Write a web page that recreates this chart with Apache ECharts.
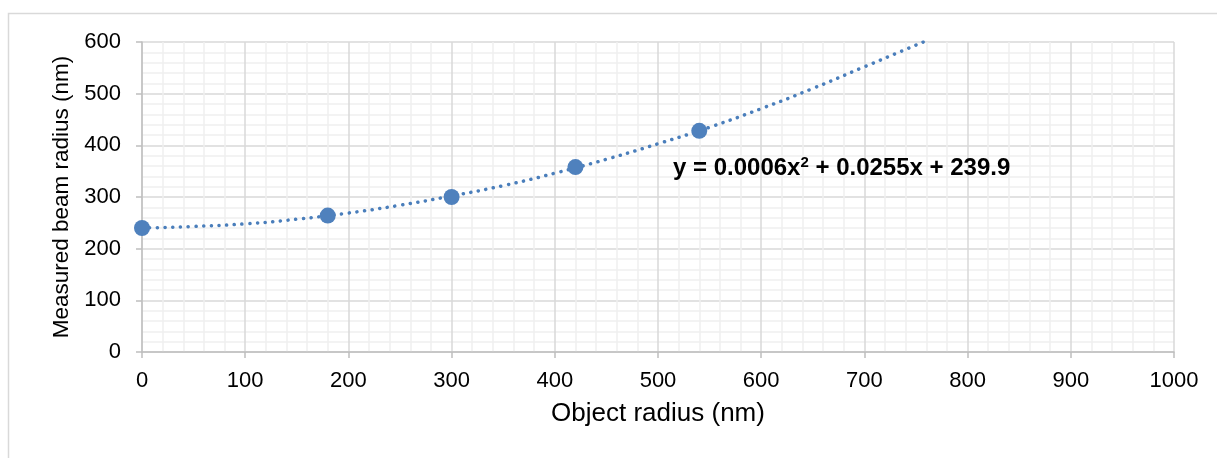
<!DOCTYPE html>
<html>
<head>
<meta charset="utf-8">
<script src="https://cdn.jsdelivr.net/npm/echarts@6/dist/echarts.min.js"></script>
<style>
  html, body { margin: 0; padding: 0; background: #fff; }
  #chart { width: 1217px; height: 458px; }
</style>
</head>
<body>
<div id="chart"></div>
<script>
// measured points (object radius nm, beam radius nm)
const objectRadius = [0, 180, 300, 420, 540];
const beamRadius = [240, 264, 300, 358, 428];

// polynomial trendline as drawn
const trendX = [0, 50, 100, 150, 200, 250, 300, 350, 400, 450, 500, 550, 600, 650, 700, 757];
const trendY = [240, 243, 248, 257, 269, 284, 302, 322, 346, 373, 403, 435, 471, 510, 552, 600];

const xTicks = [0, 100, 200, 300, 400, 500, 600, 700, 800, 900, 1000];
const yTicks = [0, 100, 200, 300, 400, 500, 600];

const equationText = "y = 0.0006x{sup|2} + 0.0255x + 239.9";

const chart = echarts.init(document.getElementById("chart"));

const font = "'Liberation Sans', Arial, sans-serif";

const option = {
  animation: false,
  textStyle: { fontFamily: font },
  grid: {
    left: 142,
    right: 43,
    top: 42,
    bottom: 106,
  },
  xAxis: {
    type: "value",
    min: xTicks[0],
    max: xTicks[xTicks.length - 1],
    interval: 100,
    name: "Object radius (nm)",
    nameLocation: "middle",
    nameGap: 49,
    nameTextStyle: { fontSize: 26, color: "#000", fontFamily: font },
    axisLine: { show: true, lineStyle: { color: "#bfbfbf", width: 1.5 } },
    axisTick: { show: true, length: 6, lineStyle: { color: "#bfbfbf", width: 1.5 } },
    axisLabel: { fontSize: 22, color: "#000", margin: 18, fontFamily: font, formatter: (v) => String(v) },
    splitLine: { show: true, lineStyle: { color: "#d9d9d9", width: 1.5 } },
    minorTick: { show: false, splitNumber: 5 },
    minorSplitLine: { show: true, lineStyle: { color: "#f0f0f0", width: 1.5 } },
  },
  yAxis: {
    type: "value",
    min: yTicks[0],
    max: yTicks[yTicks.length - 1],
    interval: 100,
    name: "Measured beam radius (nm)",
    nameLocation: "middle",
    nameGap: 68,
    nameTextStyle: { fontSize: 22.5, color: "#000", fontFamily: font },
    axisLine: { show: true, lineStyle: { color: "#bfbfbf", width: 1.5 } },
    axisTick: { show: true, length: 6, lineStyle: { color: "#bfbfbf", width: 1.5 } },
    axisLabel: { fontSize: 22, color: "#000", margin: 21, fontFamily: font, formatter: (v) => String(v) },
    splitLine: { show: true, lineStyle: { color: "#d9d9d9", width: 1.5 } },
    minorTick: { show: false, splitNumber: 5 },
    minorSplitLine: { show: true, lineStyle: { color: "#f0f0f0", width: 1.5 } },
  },
  graphic: [
    {
      type: "rect",
      silent: true,
      shape: { x: 8.5, y: 13.5, width: 1300, height: 600 },
      style: { fill: "none", stroke: "#d9d9d9", lineWidth: 1.5 },
      z: -10,
    },
    {
      type: "text",
      left: 673,
      top: 155,
      style: {
        text: equationText,
        fill: "#000",
        font: "bold 24px " + font,
        rich: {
          sup: { fontSize: 15, fontWeight: "bold", fontFamily: font, verticalAlign: "top", padding: [0, 0, 12, 0] },
        },
      },
      z: 20,
    },
  ],
  series: [
    {
      name: "Trend",
      type: "line",
      data: trendX.map((x, i) => [x, trendY[i]]),
      smooth: true,
      showSymbol: false,
      lineStyle: { color: "#4a7ebb", width: 3.5, type: [0.1, 7.6], cap: "round" },
      z: 3,
    },
    {
      name: "Measured",
      type: "scatter",
      data: objectRadius.map((x, i) => [x, beamRadius[i]]),
      symbolSize: 16,
      itemStyle: { color: "#4f81bd", opacity: 1 },
      z: 4,
    },
  ],
};

chart.setOption(option);
</script>
</body>
</html>
